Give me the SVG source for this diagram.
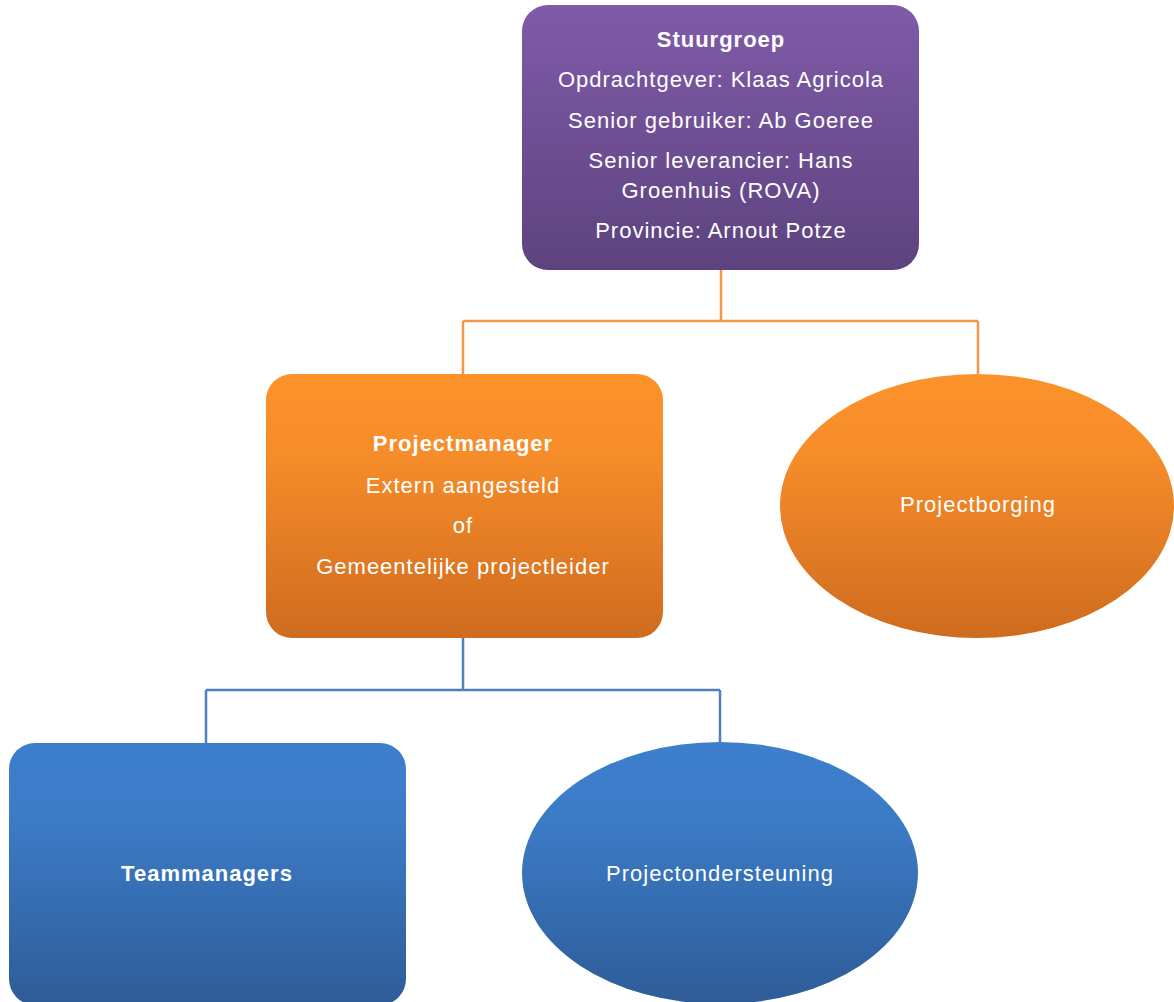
<svg xmlns="http://www.w3.org/2000/svg" width="1174" height="1002" viewBox="0 0 1174 1002">
<defs>
<linearGradient id="gPurple" x1="0" y1="0" x2="0" y2="1"><stop offset="0" stop-color="#7f5ba9"/><stop offset="1" stop-color="#5d437e"/></linearGradient>
<linearGradient id="gOrange" x1="0" y1="0" x2="0" y2="1"><stop offset="0" stop-color="#fc922b"/><stop offset="0.3" stop-color="#f68d2a"/><stop offset="1" stop-color="#cf6b1f"/></linearGradient>
<linearGradient id="gBlue" x1="0" y1="0" x2="0" y2="1"><stop offset="0" stop-color="#3d7fcd"/><stop offset="0.3" stop-color="#3c7bc6"/><stop offset="1" stop-color="#2e5c97"/></linearGradient>
<style>
text{font-family:"Liberation Sans",Arial,sans-serif;font-size:22px;letter-spacing:1px;fill:#ffffff;text-anchor:middle}
.b{font-weight:bold}
.co{fill:none;stroke:#f79646;stroke-width:2.5}
.cb{fill:none;stroke:#4f81bd;stroke-width:2.5}
</style>
</defs>
<rect width="1174" height="1002" fill="#ffffff"/>
<g id="connectors">
<path class="co" d="M721 270V321M463 321H978M463 321V374M978 321V374"/>
<path class="cb" d="M463 638V690M206 690H720M206 690V743M720 690V743"/>
</g>
<g id="stuurgroep">
<rect x="522" y="5" width="397" height="265" rx="26" fill="url(#gPurple)"/>
<text x="721" y="47" class="b">Stuurgroep</text>
<text x="721" y="87">Opdrachtgever: Klaas Agricola</text>
<text x="721" y="128">Senior gebruiker: Ab Goeree</text>
<text x="721" y="168">Senior leverancier: Hans</text>
<text x="721" y="198">Groenhuis (ROVA)</text>
<text x="721" y="238">Provincie: Arnout Potze</text>
</g>
<g id="projectmanager">
<rect x="266" y="374" width="397" height="264" rx="26" fill="url(#gOrange)"/>
<text x="463" y="451" class="b">Projectmanager</text>
<text x="463" y="493">Extern aangesteld</text>
<text x="463" y="533">of</text>
<text x="463" y="574">Gemeentelijke projectleider</text>
</g>
<g id="projectborging">
<ellipse cx="977" cy="506" rx="197" ry="132" fill="url(#gOrange)"/>
<text x="978" y="512">Projectborging</text>
</g>
<g id="teammanagers">
<rect x="9" y="743" width="397" height="262" rx="26" fill="url(#gBlue)"/>
<text x="207" y="881" class="b">Teammanagers</text>
</g>
<g id="projectondersteuning">
<ellipse cx="720" cy="873" rx="198" ry="131" fill="url(#gBlue)"/>
<text x="720" y="881">Projectondersteuning</text>
</g>
</svg>
